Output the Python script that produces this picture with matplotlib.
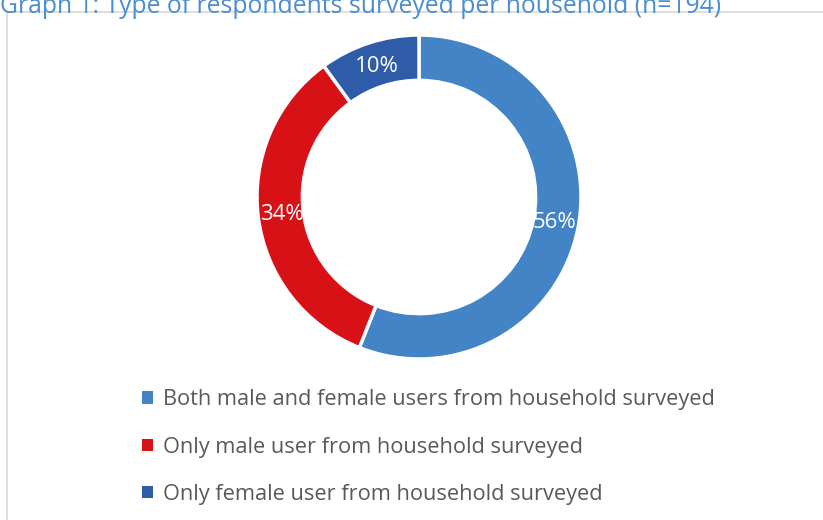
import matplotlib
matplotlib.use('Agg')
import matplotlib.pyplot as plt
from matplotlib.patches import Rectangle
import numpy as np

plt.rcParams['font.family'] = ['Open Sans', 'DejaVu Sans']

labels = ['Both male and female users from household surveyed',
          'Only male user from household surveyed',
          'Only female user from household surveyed']
shares = [56, 34, 10]
colors = ['#4384C6', '#D71116', '#2E5CA8']
title = 'Graph 1: Type of respondents surveyed per household (n=194)'

W, H = 823, 520
fig = plt.figure(figsize=(W / 100, H / 100), dpi=100)

# chart frame (cut by the image edges)
fig.patches.append(Rectangle((7 / W, -0.1), 1.2, 1 - 12 / H + 0.1,
                             transform=fig.transFigure, fill=False,
                             edgecolor='#D9D9D9', linewidth=1.2))

fig.text(0.0, 1 - 13 / H, title, ha='left', va='baseline',
         fontsize=17.8, color='#4A8DD0')

# donut
cx, cy, r = 419, 197, 162
ax = fig.add_axes([(cx - r) / W, 1 - (cy + r) / H, 2 * r / W, 2 * r / H])
wedges, _ = ax.pie(shares, colors=colors, startangle=90, counterclock=False,
                   radius=1, wedgeprops=dict(width=0.28, edgecolor='white',
                                             linewidth=2.5))
ax.set_xlim(-1, 1)
ax.set_ylim(-1, 1)
ax.axis('off')

ang = 90.0
for v in shares:
    mid = np.deg2rad(ang - v * 3.6 / 2)
    ang -= v * 3.6
    ax.text(0.85 * np.cos(mid), 0.85 * np.sin(mid), f'{v}%',
            ha='center', va='center', color='white', fontsize=16)

leg = fig.legend(wedges, labels, loc='center left',
                 bbox_to_anchor=(142 / W, 1 - 447 / H), frameon=False,
                 fontsize=15.7, labelcolor='#595959', handlelength=0.5,
                 handleheight=0.5, handletextpad=0.45, labelspacing=1.2,
                 borderpad=0, borderaxespad=0)
for h in leg.legend_handles:
    h.set_linewidth(0)

fig.savefig('out.png', dpi=100)
